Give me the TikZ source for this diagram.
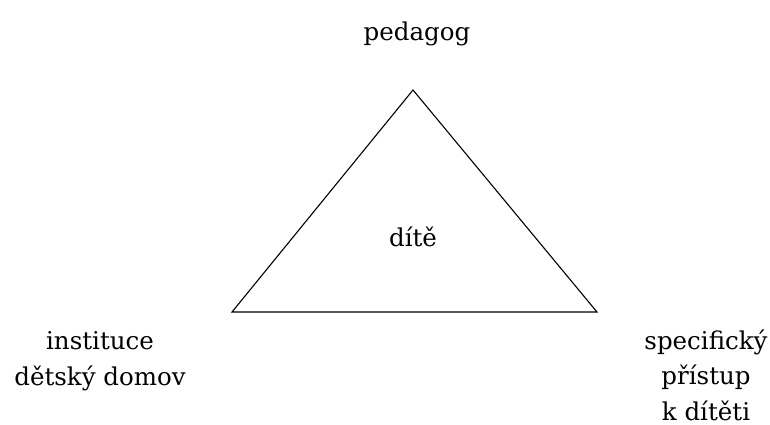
\documentclass[tikz,border=0pt]{standalone}
\usepackage{fontspec}
\setmainfont{DejaVu Serif}
\usepackage{tikz}
\usetikzlibrary{positioning,calc}
\tikzset{
  lbl/.style ={align=center, inner sep=0pt, text=black,
               font=\fontsize{24.5}{35.5}\selectfont},
  edge/.style={draw=black, line width=1.1pt, line join=miter},
}

\begin{document}
\begin{tikzpicture}[x=1pt,y=-1pt]
  \useasboundingbox (0,0) rectangle (770,425);

  \coordinate (top) at (413,90);
  \coordinate (bl)  at (232,312);
  \coordinate (br)  at (597,312);
  \draw[edge] (top) -- (bl) -- (br) -- cycle;

  \node[lbl] (ped) at (417,34)  {pedagog};
  \node[lbl] (child) at (413,237) {dítě};
  \node[lbl] (inst) at (100,361) {instituce\\dětský domov};
  \node[lbl] (spec) at (706,375) {specifický\\přístup\\k dítěti};
\end{tikzpicture}
\end{document}
